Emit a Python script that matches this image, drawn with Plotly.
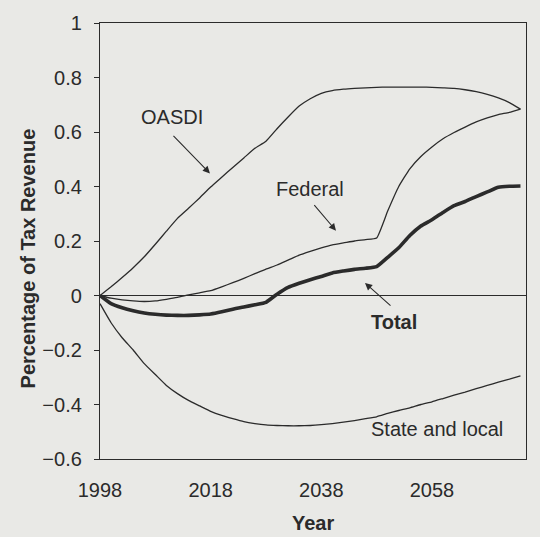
import plotly.graph_objects as go

years = [1998, 2000, 2002, 2004, 2006, 2008, 2010, 2012, 2014, 2016, 2018, 2020,
         2022, 2024, 2026, 2028, 2030, 2032, 2034, 2036, 2038, 2040, 2042, 2044,
         2046, 2048, 2050, 2052, 2054, 2056, 2058, 2060, 2062, 2064, 2066, 2068,
         2070, 2072, 2074]

oasdi = [0.0, 0.032, 0.066, 0.102, 0.142, 0.188, 0.236, 0.283, 0.32, 0.358, 0.398, 0.434,
         0.47, 0.505, 0.54, 0.566, 0.612, 0.655, 0.695, 0.722, 0.742, 0.752, 0.757, 0.760,
         0.762, 0.764, 0.765, 0.765, 0.765, 0.765, 0.764, 0.762, 0.760, 0.755, 0.748, 0.738,
         0.725, 0.708, 0.684]

federal = [0.0, -0.01, -0.016, -0.02, -0.022, -0.02, -0.014, -0.007, 0.002, 0.01, 0.018, 0.032,
           0.047, 0.063, 0.08, 0.097, 0.112, 0.13, 0.148, 0.162, 0.175, 0.186, 0.193, 0.2,
           0.205, 0.211, 0.31, 0.40, 0.465, 0.51, 0.545, 0.575, 0.598, 0.618, 0.637, 0.652,
           0.664, 0.672, 0.684]

total = [0.0, -0.03, -0.045, -0.056, -0.064, -0.069, -0.072, -0.073, -0.073, -0.071, -0.068, -0.06,
         -0.05, -0.042, -0.034, -0.025, 0.005, 0.03, 0.045, 0.058, 0.07, 0.083, 0.09, 0.096,
         0.1, 0.106, 0.14, 0.175, 0.22, 0.255, 0.278, 0.305, 0.33, 0.345, 0.363, 0.38,
         0.397, 0.401, 0.402]

state_local = [-0.03, -0.10, -0.155, -0.20, -0.25, -0.29, -0.33, -0.36, -0.385, -0.405, -0.425, -0.44,
               -0.452, -0.463, -0.47, -0.475, -0.477, -0.478, -0.478, -0.477, -0.474, -0.47, -0.465, -0.459,
               -0.452, -0.445, -0.433, -0.422, -0.412, -0.40, -0.39, -0.378, -0.366, -0.355, -0.342, -0.33,
               -0.318, -0.307, -0.295]

x_ticks = [1998, 2018, 2038, 2058]
y_ticks = [-0.6, -0.4, -0.2, 0, 0.2, 0.4, 0.6, 0.8, 1]
y_tick_text = ["\u22120.6", "\u22120.4", "\u22120.2", "0", "0.2", "0.4", "0.6", "0.8", "1"]

BG = "#e9e9e6"
INK = "#2b2b2b"
FONT = "Liberation Sans, Arial, sans-serif"

fig = go.Figure()
for vals, w in [(oasdi, 1.3), (federal, 1.3), (state_local, 1.3), (total, 3.6)]:
    fig.add_trace(go.Scatter(x=years, y=vals, mode="lines",
                             line=dict(color=INK, width=w, shape="spline", smoothing=0.4),
                             showlegend=False, hoverinfo="skip"))

def lab(text, x, y, bold=False):
    fig.add_annotation(x=x, y=y, xref="x", yref="y", text=("<b>%s</b>" % text) if bold else text,
                       showarrow=False, xanchor="center", yanchor="middle",
                       font=dict(family=FONT, size=20, color=INK))

def arrow(x, y, ax, ay):
    fig.add_annotation(x=x, y=y, xref="x", yref="y", ax=ax, ay=ay, text="",
                       showarrow=True, arrowhead=2, arrowsize=1.3, arrowwidth=1.1,
                       arrowcolor=INK)

lab("OASDI", 2010.96, 0.655)
arrow(2017.88, 0.448, -38, -39)
lab("Federal", 2035.87, 0.39)
arrow(2040.66, 0.238, -23, -27)
lab("Total", 2051.2, -0.096, bold=True)
arrow(2045.9, 0.046, 27, 24)
lab("State and local", 2058.9, -0.491)

fig.add_annotation(x=-0.169, y=0.46, xref="paper", yref="paper", text="<b>Percentage of Tax Revenue</b>",
                   textangle=-90, showarrow=False, xanchor="center", yanchor="middle",
                   font=dict(family=FONT, size=20, color=INK))
fig.add_annotation(x=0.499, y=-0.147, xref="paper", yref="paper", text="<b>Year</b>",
                   showarrow=False, xanchor="center", yanchor="middle",
                   font=dict(family=FONT, size=20, color=INK))

fig.update_layout(
    width=540, height=537,
    margin=dict(l=100, r=14, t=18, b=78),
    paper_bgcolor=BG, plot_bgcolor=BG,
    font=dict(family=FONT, size=20, color=INK),
)
fig.update_xaxes(range=[1998, 2075], tickvals=x_ticks, ticktext=[str(v) for v in x_ticks],
                 showgrid=False, zeroline=False, showline=True, linecolor=INK, linewidth=1.3,
                 mirror=True, ticks="", ticklabelstandoff=13,
                 tickfont=dict(family=FONT, size=20, color=INK))
fig.update_yaxes(range=[-0.6, 1], tickvals=y_ticks, ticktext=y_tick_text,
                 showgrid=False, zeroline=True, zerolinecolor=INK, zerolinewidth=1,
                 showline=True, linecolor=INK, linewidth=1.3, mirror=True,
                 ticks="outside", ticklen=5, tickcolor=INK, ticklabelstandoff=8,
                 tickfont=dict(family=FONT, size=20, color=INK))

fig.write_html("out.html")
